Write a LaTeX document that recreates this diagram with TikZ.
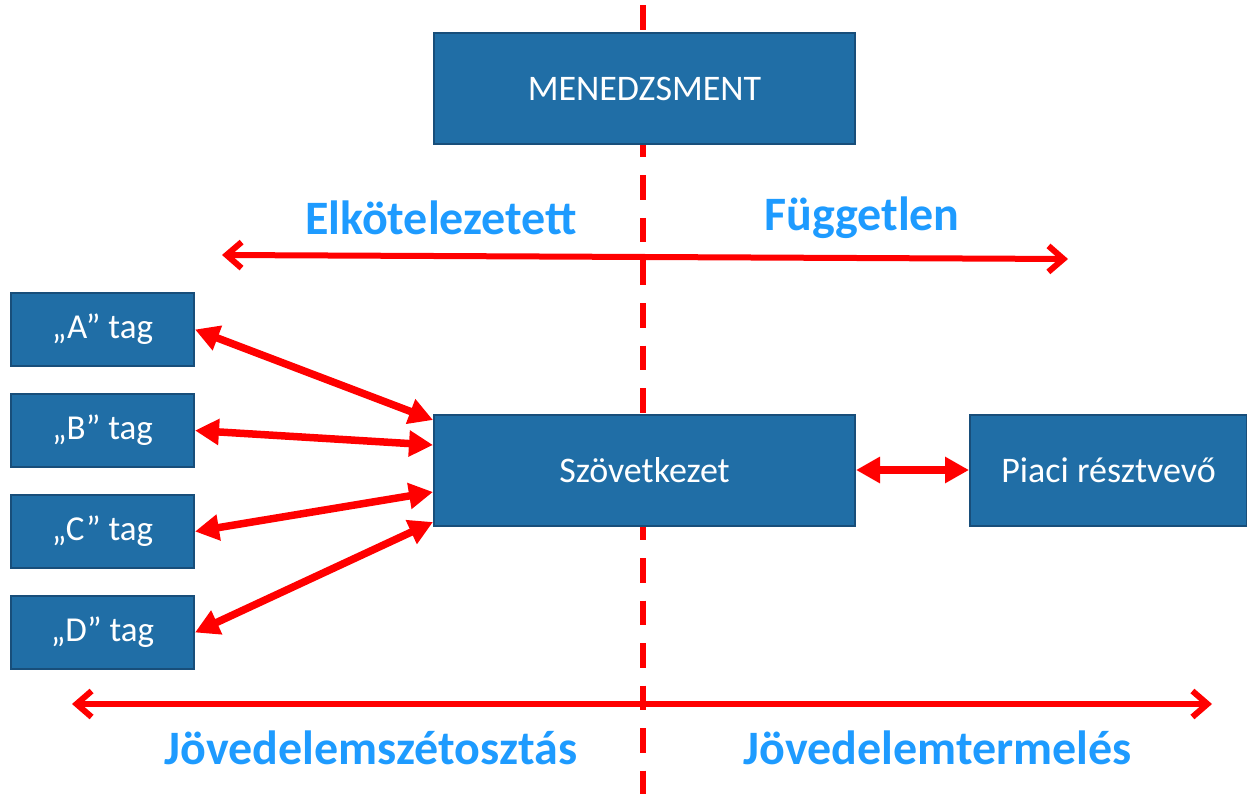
\documentclass[tikz,border=0pt]{standalone}
\usepackage{fontspec}
\setmainfont{Carlito}
\usetikzlibrary{arrows.meta, positioning}
\definecolor{boxblue}{RGB}{32,110,166}
\definecolor{boxedge}{RGB}{24,78,122}
\definecolor{labelblue}{RGB}{30,155,255}

\begin{document}
\begin{tikzpicture}[x=1pt, y=-1pt, node distance=26pt,
    box/.style={draw=boxedge, line width=2pt, fill=boxblue, text=white,
        inner sep=0pt, font=\fontsize{36}{42}\selectfont},
    bigbox/.style={box, minimum width=421pt, minimum height=111pt},
    tagbox/.style={box, minimum width=183pt, minimum height=73pt,
        font=\fontsize{35}{41}\selectfont},
    side/.style={text=labelblue, font=\fontsize{48}{56}\selectfont\bfseries},
    link/.style={red, line width=7.5pt,
        {Triangle[length=24pt,width=25pt]}-{Triangle[length=24pt,width=25pt]}},
    axis/.style={red, line width=6pt, line cap=round,
        {Straight Barb[length=15pt,width=26pt]}-{Straight Barb[length=15pt,width=26pt]}}]
    \useasboundingbox (0,0) rectangle (1247,794);

    % dividing line
    \coordinate (divtop) at (643,5.5);
    \coordinate (divbot) at (643,794);
    \draw[red, line width=6pt, dash pattern=on 24.5pt off 18pt] (divtop) -- (divbot);

    \node[bigbox] (menedzsment) at (644.5,88.5) {MENEDZSMENT};
    \node[bigbox] (szov) at (644.5,470) {Szövetkezet};
    \node[box, minimum width=277pt, minimum height=111pt] (piaci) at (1108.5,470) {Piaci résztvevő};

    \node[tagbox] (taga) at (102.5,329.5) {„A” tag};
    \node[tagbox] (tagb)[below=of taga] {„B” tag};
    \node[tagbox] (tagc)[below=of tagb] {„C” tag};
    \node[tagbox] (tagd)[below=of tagc] {„D” tag};

    \node[side] (elk) at (441,218) {Elkötelezetett};
    \node[side] (fugg) at (862,218) {Független};
    \node[side] (szet) at (371,748) {Jövedelemszétosztás};
    \node[side] (term) at (938,748) {Jövedelemtermelés};

    \coordinate (topl) at (222,255);
    \coordinate (topr) at (1068,259);
    \coordinate (botl) at (72,704);
    \coordinate (botr) at (1212,704);
    \draw[axis] (topl) -- (topr);
    \draw[axis] (botl) -- (botr);

    \draw[link] (taga.east) -- ([yshift=50pt]szov.west);
    \draw[link] (tagb.east) -- ([yshift=25pt]szov.west);
    \draw[link] (tagc.east) -- ([yshift=-22pt]szov.west);
    \draw[link] (tagd.east) -- ([yshift=-52pt]szov.west);
    \draw[link] (szov.east) -- (piaci.west);

\end{tikzpicture}
\end{document}
